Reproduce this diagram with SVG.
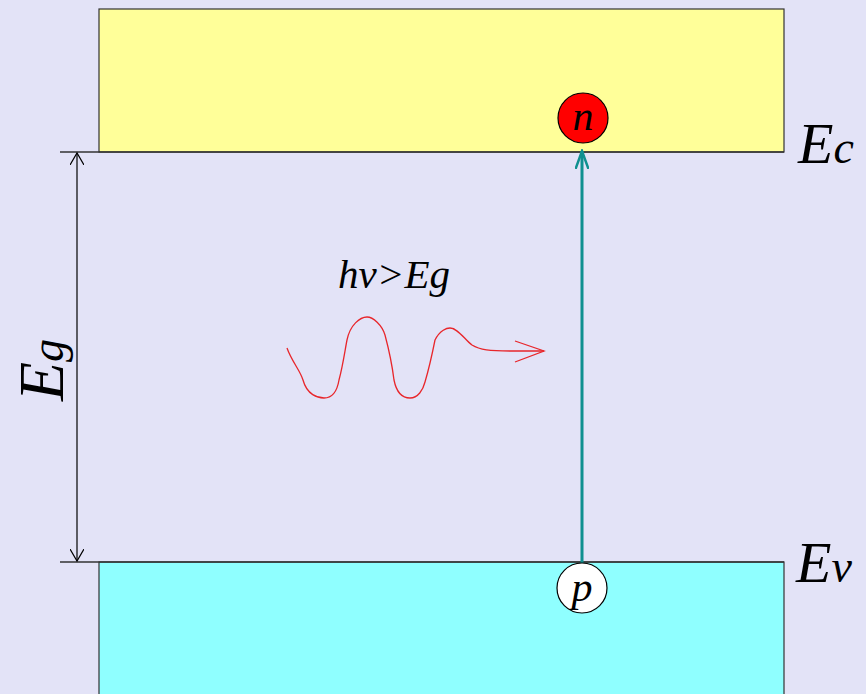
<svg xmlns="http://www.w3.org/2000/svg" width="866" height="694" viewBox="0 0 866 694">
<style>
.t{font-family:"Liberation Serif",serif;font-style:italic;fill:#000}
.ln{stroke:#333;stroke-width:1.3;fill:none}
</style>
<defs>
<marker id="open" markerWidth="14" markerHeight="14" refX="12" refY="7" orient="auto" markerUnits="userSpaceOnUse"><path d="M0,0 L12,7 L0,14" fill="none" stroke="#000" stroke-width="1.2"/></marker>
<marker id="teal" markerWidth="20" markerHeight="14" refX="18" refY="7" orient="auto" markerUnits="userSpaceOnUse"><path d="M0,0.5 L18,7 L0,13.5" fill="none" stroke="#0f9090" stroke-width="2.5"/></marker>
</defs>
<rect width="866" height="694" fill="#e3e3f7"/>
<g id="conduction-band"><rect x="99" y="9" width="685" height="143" fill="#ffff99" stroke="#333" stroke-width="1.2"/></g>
<g id="valence-band"><rect x="99" y="562" width="685" height="140" fill="#8fffff" stroke="#333" stroke-width="1.2"/></g>
<g id="levels">
<line class="ln" x1="60" y1="152" x2="784" y2="152"/>
<line class="ln" x1="60" y1="562" x2="784" y2="562"/>
</g>
<g id="connectors">
<line x1="77" y1="357" x2="77" y2="153" stroke="#000" stroke-width="1.2" marker-end="url(#open)"/>
<line x1="77" y1="357" x2="77" y2="561" stroke="#000" stroke-width="1.2" marker-end="url(#open)"/>
<line x1="582" y1="563" x2="582" y2="151" stroke="#0f9090" stroke-width="3" marker-end="url(#teal)"/>
<path d="M287,348 C292,362 300,370 303,380 C307,395 318,398 324,398 C332,398 337,392 339,380 C343,365 345,350 347,340 C350,325 360,317 367,317 C373,317 382,325 385,335 C389,350 393,372 394,380 C397,395 404,398 410,398 C418,398 423,390 425,382 C430,365 433,350 435,340 C440,330 447,328 450,328 C458,328 465,340 472,345 C480,350 490,351 510,351 L544,351" fill="none" stroke="#e8262b" stroke-width="1.3"/>
<path d="M515,341 L544,351 L515,362" fill="none" stroke="#e8262b" stroke-width="1.3"/>
</g>
<g id="electron"><circle cx="583" cy="118" r="25" fill="#ff0000" stroke="#000" stroke-width="1.2"/><text class="t" x="583" y="130" font-size="42" text-anchor="middle">n</text></g>
<g id="hole"><circle cx="582" cy="588" r="25" fill="#fff" stroke="#000" stroke-width="1.2"/><text class="t" x="582" y="601" font-size="42" text-anchor="middle">p</text></g>
<g id="labels">
<text class="t" x="798" y="163" font-size="58">E<tspan font-size="46">c</tspan></text>
<text class="t" x="796" y="582" font-size="58">E<tspan font-size="46">v</tspan></text>
<text class="t" x="394" y="288" font-size="41" text-anchor="middle">hv&gt;Eg</text>
<text class="t" font-size="64" transform="translate(63,401) rotate(-90)">E<tspan font-size="46">g</tspan></text>
</g>
</svg>
